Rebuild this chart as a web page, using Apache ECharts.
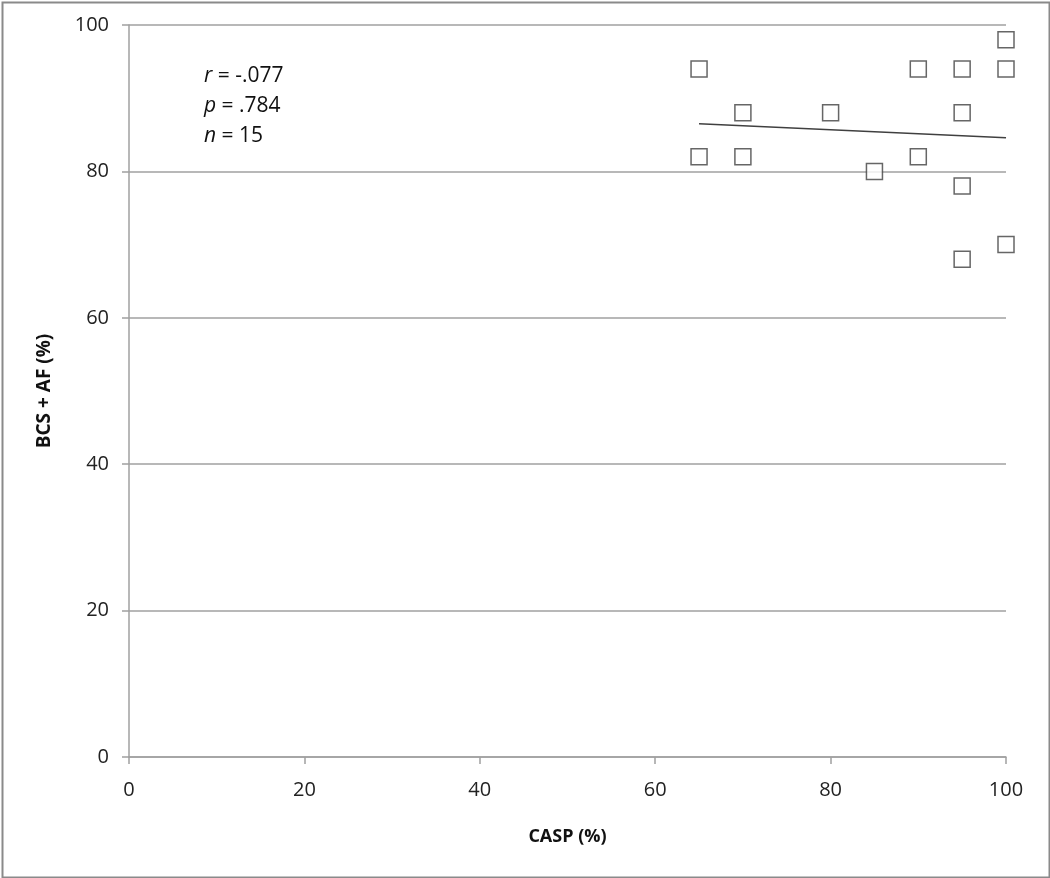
<!DOCTYPE html>
<html><head><meta charset="utf-8">
<script src="https://cdn.jsdelivr.net/npm/echarts@6/dist/echarts.min.js"></script>
<style>html,body{margin:0;padding:0;background:#fff}#c{width:1050px;height:878px}</style>
</head><body><div id="c"></div>
<script>
const caspX = [65, 65, 70, 70, 80, 85, 90, 90, 95, 95, 95, 95, 100, 100, 100];
const bcsY  = [94, 82, 88, 82, 88, 80, 94, 82, 94, 88, 78, 68, 98, 94, 70];
const trendX = [65, 100];
const trendY = [86.5, 84.6];
const xTicks = [0, 20, 40, 60, 80, 100];
const yTicks = [0, 20, 40, 60, 80, 100];
const stats = [['r', ' = -.077'], ['p', ' = .784'], ['n', ' = 15']];

const points = caspX.map((x, i) => [x, bcsY[i]]);
const trend = trendX.map((x, i) => [x, trendY[i]]);
const font = 'Open Sans';

const chart = echarts.init(document.getElementById('c'), null, {renderer: 'canvas'});
chart.setOption({
  animation: false,
  backgroundColor: '#fff',
  grid: {left: 129, right: 44, top: 25, bottom: 121, containLabel: false},
  xAxis: {
    type: 'value', min: 0, max: 100, interval: 20,
    name: 'CASP (%)', nameLocation: 'middle', nameGap: 71,
    nameTextStyle: {fontFamily: font, fontWeight: 'bold', fontSize: 18, color: '#111'},
    axisLine: {show: true, lineStyle: {color: '#a0a0a0', width: 1.5}},
    axisTick: {show: true, length: 7, lineStyle: {color: '#a0a0a0', width: 1.5}},
    axisLabel: {fontFamily: font, fontSize: 20, color: '#222', margin: 23,
      formatter: v => xTicks.includes(v) ? String(v) : ''},
    splitLine: {show: false}
  },
  yAxis: {
    type: 'value', min: 0, max: 100, interval: 20,
    name: 'BCS + AF (%)', nameLocation: 'middle', nameGap: 75, nameRotate: 90,
    nameTextStyle: {fontFamily: font, fontWeight: 'bold', fontSize: 19, color: '#111'},
    axisLine: {show: true, lineStyle: {color: '#a0a0a0', width: 1.5}},
    axisTick: {show: true, length: 7, lineStyle: {color: '#a0a0a0', width: 1.5}},
    axisLabel: {fontFamily: font, fontSize: 20, color: '#222', margin: 20,
      formatter: v => yTicks.includes(v) ? String(v) : ''},
    splitLine: {show: true, lineStyle: {color: '#a0a0a0', width: 1.5}}
  },
  series: [
    {
      type: 'line', data: trend, showSymbol: false, symbol: 'none',
      lineStyle: {color: '#404040', width: 1.5}, z: 2
    },
    {
      type: 'scatter', data: points, symbol: 'rect', symbolSize: 16,
      itemStyle: {color: '#fff', borderColor: '#404040', borderWidth: 1.5}, z: 3
    }
  ],
  graphic: [
    {type: 'rect', left: 0, top: 0, z: 100, silent: true,
      shape: {x: 1, y: 1, width: 1047, height: 875},
      style: {fill: 'none', stroke: '#8a8a8a', lineWidth: 2}},
    ...stats.map((s, i) => ({
      type: 'text', left: 204, top: 66 + i * 30, z: 50,
      style: {
        text: '{i|' + s[0] + '}{n|' + s[1] + '}',
        rich: {
          i: {fontFamily: font, fontStyle: 'italic', fontSize: 21, fill: '#111', color: '#111'},
          n: {fontFamily: font, fontSize: 21, fill: '#111', color: '#111'}
        }
      }
    }))
  ]
});
</script></body></html>
